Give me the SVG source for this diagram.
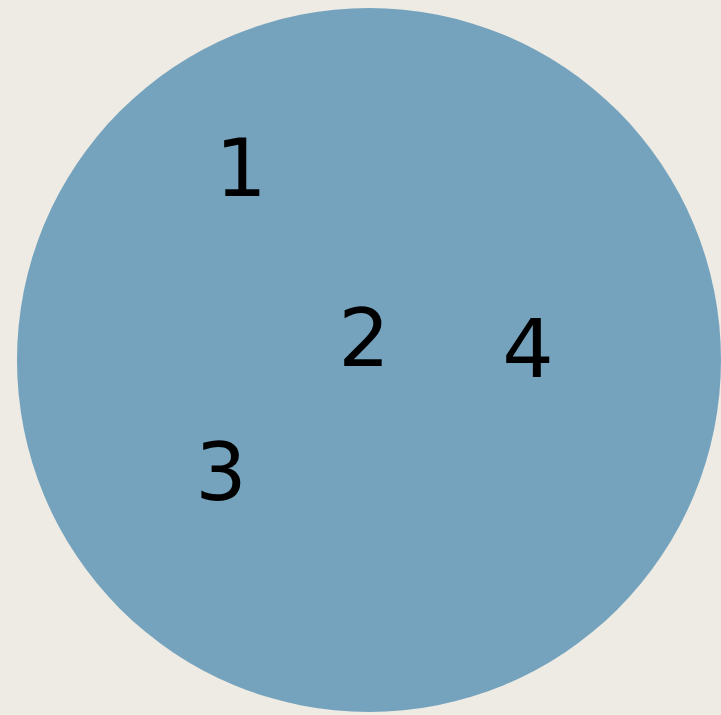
<svg xmlns="http://www.w3.org/2000/svg" width="721" height="715" viewBox="0 0 721 715">
<style>
.lbl{font-family:"DejaVu Sans",sans-serif;font-size:81px;fill:#000;text-anchor:middle}
</style>
<rect width="721" height="715" fill="#EEEBE4"/>
<g id="circle"><circle cx="369" cy="360" r="352" fill="#75A3BD"/></g>
<g id="n1"><text class="lbl" x="241" y="196">1</text></g>
<g id="n2"><text class="lbl" x="364" y="366">2</text></g>
<g id="n4"><text class="lbl" x="528" y="377">4</text></g>
<g id="n3"><text class="lbl" x="221" y="500">3</text></g>
<g id="connectors"/>
</svg>
